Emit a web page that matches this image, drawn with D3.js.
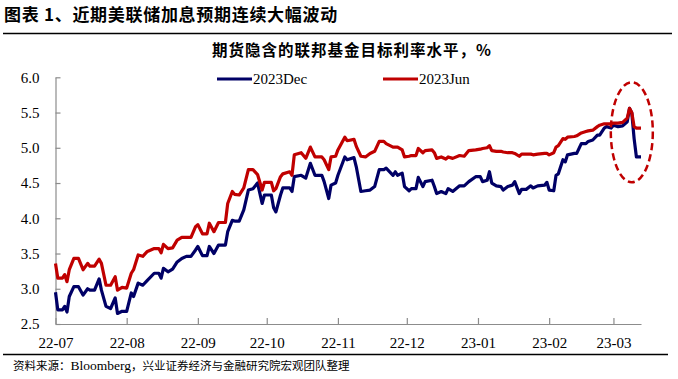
<!DOCTYPE html>
<html>
<head>
<meta charset="utf-8">
<script src="https://cdn.jsdelivr.net/npm/d3@7"></script>
<style>
  body { margin: 0; background: #fff; }
  svg { display: block; }
</style>
</head>
<body>
<svg id="chart"></svg>
<script>
// values
var dates = ["2022-07-01","2022-07-02","2022-07-04","2022-07-05","2022-07-06","2022-07-07","2022-07-09","2022-07-11","2022-07-13","2022-07-15",
  "2022-07-16","2022-07-18","2022-07-20","2022-07-21","2022-07-23","2022-07-25","2022-07-27","2022-07-28","2022-07-30",
  "2022-08-01","2022-08-03","2022-08-04","2022-08-06","2022-08-08","2022-08-10","2022-08-13","2022-08-15","2022-08-16","2022-08-17",
  "2022-08-19","2022-08-21","2022-08-23","2022-08-25","2022-08-27","2022-08-29","2022-08-31",
  "2022-09-01","2022-09-03","2022-09-05","2022-09-06","2022-09-08","2022-09-10","2022-09-13","2022-09-14","2022-09-16","2022-09-17",
  "2022-09-19","2022-09-21","2022-09-23","2022-09-25","2022-09-27","2022-09-29","2022-09-30",
  "2022-10-03","2022-10-04","2022-10-05","2022-10-07","2022-10-08","2022-10-11","2022-10-12","2022-10-13","2022-10-16","2022-10-18",
  "2022-10-20","2022-10-22","2022-10-25","2022-10-26","2022-10-28","2022-10-29","2022-10-31",
  "2022-11-01","2022-11-04","2022-11-05","2022-11-08","2022-11-09","2022-11-11","2022-11-13","2022-11-15","2022-11-17","2022-11-19",
  "2022-11-21","2022-11-22","2022-11-25","2022-11-26","2022-11-27","2022-11-29","2022-11-30",
  "2022-12-02","2022-12-03","2022-12-05","2022-12-06","2022-12-08","2022-12-09","2022-12-12","2022-12-13","2022-12-14","2022-12-16",
  "2022-12-18","2022-12-19","2022-12-21","2022-12-24","2022-12-26","2022-12-28","2022-12-31",
  "2023-01-02","2023-01-03","2023-01-05","2023-01-06","2023-01-07","2023-01-09","2023-01-11","2023-01-12","2023-01-14","2023-01-16",
  "2023-01-17","2023-01-19","2023-01-20","2023-01-22","2023-01-24","2023-01-25","2023-01-27","2023-01-30","2023-01-31",
  "2023-02-01","2023-02-03","2023-02-04","2023-02-05","2023-02-07","2023-02-08","2023-02-09","2023-02-12","2023-02-13","2023-02-15",
  "2023-02-17","2023-02-18","2023-02-20","2023-02-22","2023-02-23","2023-02-25","2023-02-26","2023-02-28",
  "2023-03-01","2023-03-03","2023-03-05","2023-03-07","2023-03-08","2023-03-09","2023-03-10","2023-03-11","2023-03-13"];

var dec = [2.95,2.70,2.70,2.75,2.67,2.89,3.03,3.03,2.91,3.00,
  2.98,2.98,3.14,2.98,2.75,2.72,2.87,2.65,2.68,
  2.68,2.94,2.89,3.08,3.05,3.12,3.22,3.22,3.15,3.29,
  3.24,3.28,3.38,3.43,3.46,3.46,3.55,
  3.60,3.47,3.47,3.60,3.50,3.62,3.62,3.81,3.97,3.96,
  3.96,4.12,4.40,4.42,4.50,4.21,4.33,
  4.33,4.15,4.09,4.33,4.43,4.43,4.38,4.59,4.61,4.57,
  4.78,4.61,4.61,4.52,4.28,4.47,4.50,
  4.61,4.87,4.83,4.86,4.73,4.38,4.39,4.40,4.45,4.69,
  4.69,4.71,4.61,4.66,4.61,4.64,4.45,
  4.39,4.42,4.42,4.58,4.45,4.52,4.54,4.45,4.35,4.38,
  4.35,4.42,4.38,4.46,4.46,4.52,4.59,
  4.59,4.52,4.54,4.66,4.50,4.46,4.45,4.40,4.45,4.47,
  4.52,4.35,4.41,4.41,4.46,4.43,4.46,4.47,4.51,
  4.40,4.39,4.61,4.63,4.83,4.80,4.90,4.92,4.92,5.06,
  5.06,5.09,5.11,5.18,5.18,5.28,5.30,5.28,
  5.32,5.30,5.31,5.37,5.56,5.49,5.13,4.87,4.87];

var jun = [3.36,3.15,3.15,3.20,3.10,3.27,3.43,3.43,3.27,3.36,
  3.32,3.32,3.42,3.36,3.05,3.05,3.17,2.98,3.02,
  3.01,3.22,3.27,3.48,3.46,3.53,3.57,3.57,3.51,3.63,
  3.57,3.58,3.69,3.73,3.73,3.73,3.88,
  3.91,3.78,3.78,3.93,3.81,3.94,3.94,4.21,4.38,4.34,
  4.33,4.43,4.69,4.69,4.62,4.40,4.51,
  4.51,4.39,4.42,4.59,4.63,4.66,4.61,4.90,4.93,4.85,
  5.01,4.87,4.87,4.83,4.69,4.87,4.88,
  4.97,5.15,5.10,5.12,5.02,4.88,4.87,4.92,4.95,5.09,
  5.09,5.06,5.01,5.01,5.01,4.97,4.87,
  4.88,4.89,4.89,4.99,4.93,4.96,4.97,4.93,4.85,4.87,
  4.84,4.87,4.85,4.89,4.88,4.96,4.97,
  4.98,4.99,5.00,5.03,4.96,4.95,4.95,4.94,4.93,4.93,
  4.92,4.88,4.91,4.91,4.91,4.90,4.91,4.92,4.92,
  4.90,4.93,5.01,5.03,5.13,5.12,5.15,5.16,5.17,5.21,
  5.23,5.24,5.25,5.30,5.32,5.34,5.34,5.34,
  5.35,5.35,5.36,5.42,5.56,5.50,5.30,5.28,5.28];

var seriesNames = ["2023Dec", "2023Jun"];
var yTicks = [2.5, 3.0, 3.5, 4.0, 4.5, 5.0, 5.5, 6.0];
var xStart = "2022-07-01", xEnd = "2023-03-13";
// dashed ellipse around the last days (centre date / value)
var markDate = "2023-03-09", markValue = 5.22;

var title = "图表 1、近期美联储加息预期连续大幅波动";
var subtitle = "期货隐含的联邦基金目标利率水平，%";
var sourceParts = ["资料来源：", "Bloomberg", "，兴业证券经济与金融研究院宏观团队整理"];

var width = 678, height = 379;
var margin = { top: 77.3, right: 37, bottom: 55, left: 55.5 };
var parse = d3.timeParse("%Y-%m-%d");
var numFont = "'Times New Roman', 'Liberation Serif', serif";
var cjkFont = "'Noto Sans CJK SC', sans-serif";
var blue = "#000066", red = "#c00000";

var svg = d3.select("#chart")
  .attr("width", width)
  .attr("height", height);

var x = d3.scaleTime()
  .domain([parse(xStart), parse(xEnd)])
  .range([margin.left, width - margin.right]);

var y = d3.scaleLinear()
  .domain([2.5, 6])
  .range([height - margin.bottom, margin.top]);

// title + rules
svg.append("text")
  .attr("x", 4).attr("y", 21)
  .attr("font-family", cjkFont).attr("font-weight", "bold").attr("font-size", 17)
  .attr("letter-spacing", 0.7)
  .text(title);

svg.append("line")
  .attr("x1", 3).attr("x2", 672).attr("y1", 33.5).attr("y2", 33.5)
  .attr("stroke", "#000").attr("stroke-width", 1.5);

svg.append("text")
  .attr("x", 352).attr("y", 56)
  .attr("text-anchor", "middle")
  .attr("font-family", cjkFont).attr("font-weight", "bold").attr("font-size", 15.5)
  .attr("letter-spacing", 1)
  .text(subtitle);

svg.append("line")
  .attr("x1", 3).attr("x2", 668).attr("y1", 354.5).attr("y2", 354.5)
  .attr("stroke", "#000").attr("stroke-width", 1.5);

var src = svg.append("text")
  .attr("x", 13).attr("y", 370)
  .attr("font-family", cjkFont).attr("font-size", 11.5);
sourceParts.forEach(function(s, i) {
  var t = src.append("tspan").text(s);
  if (i === 1) t.attr("font-family", numFont).attr("font-size", 13.5);
});

// axes
var xAxis = svg.append("g")
  .attr("transform", "translate(0," + y(2.5) + ")")
  .call(d3.axisBottom(x)
    .ticks(d3.timeMonth.every(1))
    .tickFormat(d3.timeFormat("%y-%m"))
    .tickSizeInner(-6)
    .tickSizeOuter(0)
    .tickPadding(13));

var yAxis = svg.append("g")
  .attr("transform", "translate(" + margin.left + ",0)")
  .call(d3.axisLeft(y)
    .tickValues(yTicks)
    .tickFormat(d3.format(".1f"))
    .tickSizeInner(-5)
    .tickSizeOuter(0)
    .tickPadding(16));

[xAxis, yAxis].forEach(function(a) {
  a.select(".domain").attr("stroke", "#8c8c8c").attr("stroke-width", 1.2);
  a.selectAll(".tick line").attr("stroke", "#8c8c8c").attr("stroke-width", 1.2);
  a.selectAll("text")
    .attr("font-family", numFont)
    .attr("font-size", 15)
    .attr("fill", "#000");
});

// lines
var rows = dates.map(function(d, i) {
  return { date: parse(d), dec: dec[i], jun: jun[i] };
});

var lineDec = d3.line()
  .x(function(d) { return x(d.date); })
  .y(function(d) { return y(d.dec); });

var lineJun = d3.line()
  .x(function(d) { return x(d.date); })
  .y(function(d) { return y(d.jun); });

svg.append("path")
  .datum(rows)
  .attr("fill", "none")
  .attr("stroke", blue)
  .attr("stroke-width", 3.2)
  .attr("stroke-linejoin", "round")
  .attr("d", lineDec);

svg.append("path")
  .datum(rows)
  .attr("fill", "none")
  .attr("stroke", red)
  .attr("stroke-width", 3.2)
  .attr("stroke-linejoin", "round")
  .attr("d", lineJun);

// annotation ellipse
svg.append("ellipse")
  .attr("cx", x(parse(markDate)))
  .attr("cy", y(markValue))
  .attr("rx", 21)
  .attr("ry", 50)
  .attr("fill", "none")
  .attr("stroke", red)
  .attr("stroke-width", 2.5)
  .attr("stroke-dasharray", "7,4");

// legend
var legend = svg.append("g");
var legendX = [217, 383];
seriesNames.forEach(function(name, i) {
  var g = legend.append("g").attr("transform", "translate(" + legendX[i] + ",79)");
  g.append("line")
    .attr("x1", 0).attr("x2", 35)
    .attr("stroke", i === 0 ? blue : red)
    .attr("stroke-width", 3);
  g.append("text")
    .attr("x", 36).attr("y", 5)
    .attr("font-family", numFont).attr("font-size", 15)
    .text(name);
});
</script>
</body>
</html>
